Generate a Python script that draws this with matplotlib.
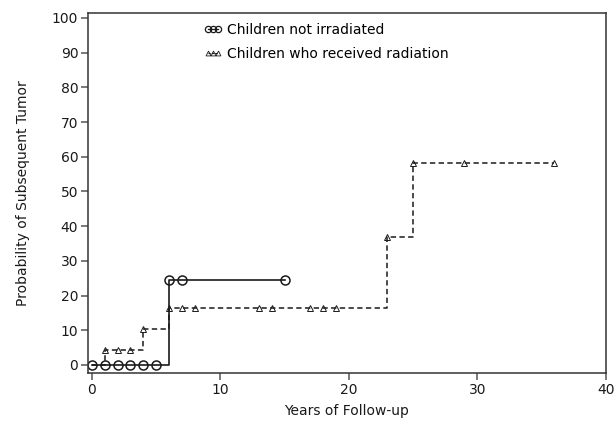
import matplotlib
matplotlib.use('Agg')
import matplotlib.pyplot as plt
from matplotlib.lines import Line2D

# Kaplan-Meier style step curves (failure probability, %)
no_rad_times = [0, 6, 15]
no_rad_probs = [0, 24.5, 24.5]
no_rad_mark_x = [0, 1, 2, 3, 4, 5, 6, 7, 15]
no_rad_mark_y = [0, 0, 0, 0, 0, 0, 24.5, 24.5, 24.5]

rad_times = [0, 1, 4, 6, 23, 25, 36]
rad_probs = [0, 4.3, 10.4, 16.5, 37.0, 58.3, 58.3]
rad_mark_x = [1, 2, 3, 4, 6, 7, 8, 13, 14, 17, 18, 19, 23, 25, 29, 36]
rad_mark_y = [4.3, 4.3, 4.3, 10.4, 16.5, 16.5, 16.5, 16.5, 16.5, 16.5, 16.5, 16.5,
              37.0, 58.3, 58.3, 58.3]

labels = ['Children not irradiated', 'Children who received radiation']
xticks = [0, 10, 20, 30, 40]
yticks = [0, 10, 20, 30, 40, 50, 60, 70, 80, 90, 100]

plt.rcParams['font.family'] = 'DejaVu Sans'
ink = '#1a1a1a'

fig = plt.figure(figsize=(6.14, 4.25), dpi=100)
ax = fig.add_axes([0.1433, 0.1224, 0.8432, 0.847])

ax.plot(no_rad_times, no_rad_probs, drawstyle='steps-post', color=ink, lw=1.2)
ax.plot(no_rad_mark_x, no_rad_mark_y, ls='none', marker='o', ms=6.5,
        mfc='none', mec=ink, mew=1.1)

ax.plot(rad_times, rad_probs, drawstyle='steps-post', color=ink, lw=1.1,
        dashes=(3.5, 2.2))
ax.plot(rad_mark_x, rad_mark_y, ls='none', marker='^', ms=5,
        mfc='none', mec=ink, mew=0.7)

ax.set_xlim(-0.3, 40)
ax.set_ylim(-2.3, 101.4)
ax.set_xticks(xticks)
ax.set_yticks(yticks)
ax.tick_params(direction='out', length=5, width=1.1, color='#555555',
               labelsize=10, labelcolor=ink, pad=2)
for sp in ax.spines.values():
    sp.set_linewidth(1.1)
    sp.set_color('#333333')

ax.set_xlabel('Years of Follow-up', fontsize=10, color=ink, labelpad=5)
ax.set_ylabel('Probability of Subsequent Tumor', fontsize=10, color=ink, labelpad=16)

handles = [
    Line2D([], [], color=ink, lw=0.9, marker='o', ms=4.5, mfc='none', mec=ink, mew=0.9),
    Line2D([], [], color=ink, lw=0.8, ls=(0, (2, 1)), marker='^', ms=3.5,
           mfc='none', mec=ink, mew=0.6),
]
ax.legend(handles, labels, loc='upper left', bbox_to_anchor=(0.205, 1.0),
          frameon=False, numpoints=3, handlelength=1.3, handletextpad=0.4,
          fontsize=10, labelspacing=0.75, borderaxespad=0.3)

fig.savefig('out.png', dpi=100)
